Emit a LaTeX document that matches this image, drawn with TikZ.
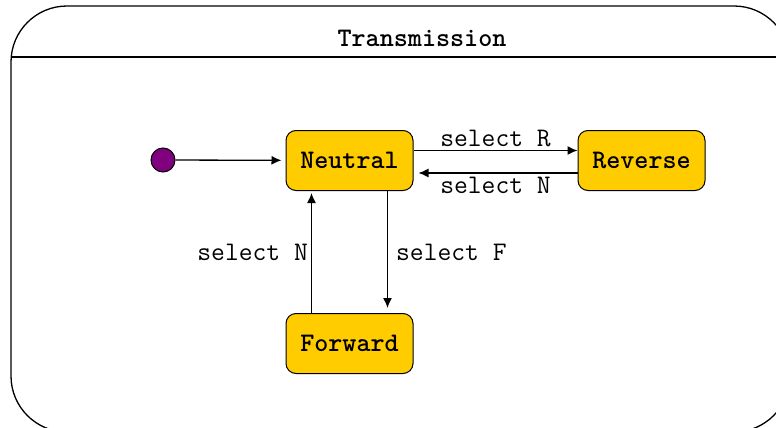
\documentclass[tikz,border=0pt]{standalone}
\usepackage{fontspec}
\usepackage{tikz}
\usetikzlibrary{positioning,arrows.meta}
\definecolor{estado}{HTML}{FFCC00}
\definecolor{inicial}{HTML}{800080}

\begin{document}
\begin{tikzpicture}[x=0.5pt, y=-0.5pt, state/.style={rectangle, rounded corners=5pt, draw, fill=estado, line width=0.5pt, font=\fontsize{13.4}{16}\ttfamily\bfseries, minimum width=63.5pt, minimum height=30pt}, lbl/.style={font=\fontsize{13.4}{16}\ttfamily, inner sep=1.5pt}, >={Latex[length=5pt,width=4.5pt]}, line width=0.65pt]
            \clip (0,0) rectangle (776,428);
            % Moldura
            \draw[rounded corners=28pt] (11,6) rectangle (790,432);
            \draw (11,57) -- (790,57);
            \node[font=\fontsize{13.4}{16}\ttfamily\bfseries] (titulo) at (422,38) {Transmission};
            % Estados
            \node[circle, draw, fill=inicial, line width=0.5pt, minimum size=12pt, inner sep=0pt] (inicio) at (163,160) {};
            \node[state] (N) at (349.5,160.5) {Neutral};
            \node[state, right=82pt of N] (R) {Reverse};
            \node[state, below=61pt of N] (F) {Forward};
            % Transicoes
            \draw[->, shorten >=2pt] (inicio) -- (N);
            \draw[->] ([yshift=5pt]N.east) -- node[lbl, above] {select R} ([yshift=5pt]R.west);
            \draw[->, shorten >=2.5pt] ([yshift=-6.25pt]R.west) -- node[lbl, below] {select N} ([yshift=-6.25pt]N.east);
            \draw[->, shorten >=1pt] ([xshift=-19pt]F.north) -- node[lbl, left] {select N} ([xshift=-19pt]N.south);
            \draw[->, shorten >=2.5pt] ([xshift=19pt]N.south) -- node[lbl, right, inner sep=4pt] {select F} ([xshift=19pt]F.north);
\end{tikzpicture}
\end{document}
